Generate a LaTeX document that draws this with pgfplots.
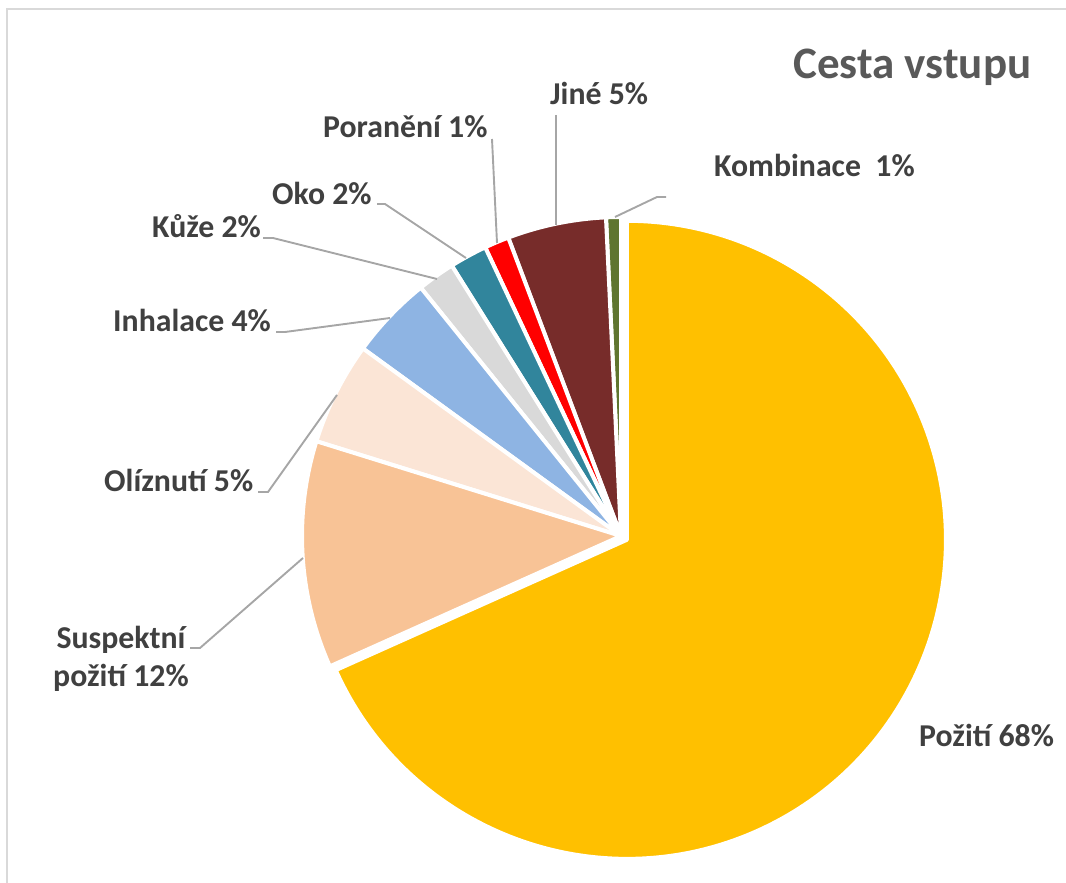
\documentclass[border=0pt]{standalone}
\usepackage{pgfplots}
\pgfplotsset{compat=1.18}
\usepackage{fontspec}
\setmainfont{Carlito}
\definecolor{cPoz}{HTML}{FFC000}
\definecolor{cSus}{HTML}{F8C396}
\definecolor{cOli}{HTML}{FBE5D6}
\definecolor{cInh}{HTML}{8EB4E3}
\definecolor{cKuz}{HTML}{D9D9D9}
\definecolor{cOko}{HTML}{31859C}
\definecolor{cPor}{HTML}{FF0000}
\definecolor{cJin}{HTML}{772C2A}
\definecolor{cKom}{HTML}{5F752F}
\definecolor{txt}{HTML}{404040}
\definecolor{ttl}{HTML}{595959}
\definecolor{lead}{HTML}{A6A6A6}
\definecolor{frame}{HTML}{D9D9D9}

% values (percent)
\def\vKom{0.75}
\def\vJin{5.0}
\def\vPor{1.25}
\def\vOko{1.9}
\def\vKuz{1.9}
\def\vInh{4.2}
\def\vOli{5.2}
\def\vSus{11.5}
\def\vPoz{68.3}
% cumulative angles (counterclockwise from 12 o'clock)
\pgfmathsetmacro\aA{90}
\pgfmathsetmacro\aB{\aA+3.6*\vKom}
\pgfmathsetmacro\aC{\aB+3.6*\vJin}
\pgfmathsetmacro\aD{\aC+3.6*\vPor}
\pgfmathsetmacro\aE{\aD+3.6*\vOko}
\pgfmathsetmacro\aF{\aE+3.6*\vKuz}
\pgfmathsetmacro\aG{\aF+3.6*\vInh}
\pgfmathsetmacro\aH{\aG+3.6*\vOli}
\pgfmathsetmacro\aI{\aH+3.6*\vSus}
\pgfmathsetmacro\aJ{\aI+3.6*\vPoz}
\pgfmathsetmacro\aMid{(\aI+\aJ)/2}
\pgfmathsetmacro\exX{621+7*cos(\aMid)}
\pgfmathsetmacro\exY{347+7*sin(\aMid)}

\newcommand{\slice}[5]{% cx cy start end color
  \filldraw[fill=#5, draw=white, line width=4pt, line join=round]
    (axis cs:#1,#2) -- ++(#3:319pt) arc[start angle=#3, end angle=#4, radius=319pt] -- cycle;}

\begin{document}
\begin{tikzpicture}
\begin{axis}[
  name=pie,
  width=1066pt, height=883pt, scale only axis,
  xmin=0, xmax=1066, ymin=0, ymax=883,
  hide axis, clip=false,
]
% frame
\draw[frame, line width=2pt] (axis cs:7,0) -- (axis cs:7,874) -- (axis cs:1066,874);
% slices
\slice{\exX}{\exY}{\aI}{\aJ}{cPoz}
\slice{621}{347}{\aA}{\aB}{cKom}
\slice{621}{347}{\aB}{\aC}{cJin}
\slice{621}{347}{\aC}{\aD}{cPor}
\slice{621}{347}{\aD}{\aE}{cOko}
\slice{621}{347}{\aE}{\aF}{cKuz}
\slice{621}{347}{\aF}{\aG}{cInh}
\slice{621}{347}{\aG}{\aH}{cOli}
\slice{621}{347}{\aH}{\aI}{cSus}
% leader lines
\draw[lead, line width=1.9pt] (axis cs:615,666) -- (axis cs:657,686) -- (axis cs:666,686);
\draw[lead, line width=1.9pt] (axis cs:556,768) -- (axis cs:556,658);
\draw[lead, line width=1.9pt] (axis cs:492,744) -- (axis cs:497,640);
\draw[lead, line width=1.9pt] (axis cs:377,679) -- (axis cs:385,679) -- (axis cs:466,625);
\draw[lead, line width=1.9pt] (axis cs:263,645) -- (axis cs:273,645) -- (axis cs:437,604);
\draw[lead, line width=1.9pt] (axis cs:276,551) -- (axis cs:285,551) -- (axis cs:390,565);
\draw[lead, line width=1.9pt] (axis cs:258,391) -- (axis cs:268,391) -- (axis cs:337,488);
\draw[lead, line width=1.9pt] (axis cs:190,235) -- (axis cs:200,235) -- (axis cs:303,325);
% labels
\begin{scope}[every node/.style={text=txt, font=\fontsize{31.8}{38}\selectfont\bfseries, inner sep=0pt}]
\node[anchor=base west] at (axis cs:714,706) {Kombinace\ \ 1\%};
\node[anchor=base west] at (axis cs:550,778) {Jiné 5\%};
\node[anchor=base west] at (axis cs:323,745) {Poranění 1\%};
\node[anchor=base west] at (axis cs:272,678) {Oko 2\%};
\node[anchor=base west] at (axis cs:152,645) {Kůže 2\%};
\node[anchor=base west] at (axis cs:113,551) {Inhalace 4\%};
\node[anchor=base west] at (axis cs:104,391) {Olíznutí 5\%};
\node[anchor=base] at (axis cs:121,234) {Suspektní};
\node[anchor=base] at (axis cs:121,196) {požití 12\%};
\node[anchor=base west] at (axis cs:919,136) {Požití 68\%};
\end{scope}
\node[anchor=base west, text=ttl, font=\fontsize{45}{52}\selectfont\bfseries, inner sep=0pt] at (axis cs:793,804) {Cesta vstupu};
\end{axis}
\pgfresetboundingbox
\path (pie.south west) rectangle (pie.north east);
\end{tikzpicture}
\end{document}
